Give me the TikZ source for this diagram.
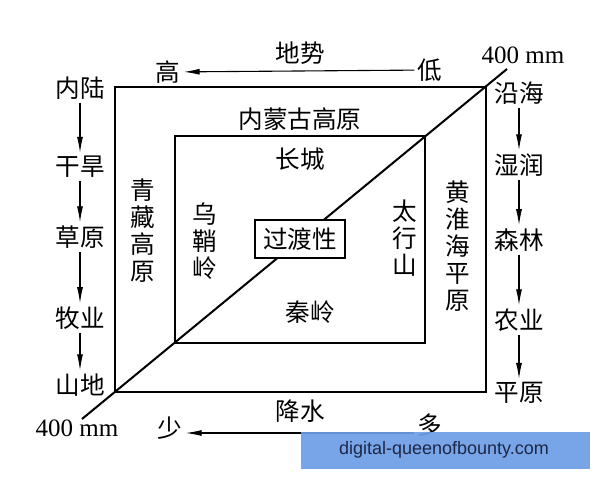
\documentclass[tikz,border=0pt]{standalone}
\usepackage{fontspec}
\setmainfont{Liberation Serif}
\newfontfamily\cjkfont{Noto Sans CJK SC}
\newfontfamily\wmfont{Liberation Sans}
\usetikzlibrary{arrows.meta}
\tikzset{>={Latex[length=8pt,width=3pt]}}
\definecolor{wmblue}{RGB}{108,158,230}
\definecolor{wmtext}{RGB}{30,38,70}

\begin{document}
\begin{tikzpicture}[x=0.5pt,y=-0.5pt,
        cjk/.style={font=\cjkfont\fontsize{12.3}{13.5}\selectfont,inner sep=1.5pt,align=center},
        mmlabel/.style={font=\fontsize{12.5}{14}\selectfont,inner sep=1pt},
        frame/.style={line width=1pt},
        flow/.style={->,line width=0.55pt}
    ]
    \useasboundingbox[fill=white] (0,0) rectangle (600,480);
    % isohyet and frames
    \coordinate (iso1) at (82,419);
    \coordinate (iso2) at (507,69);
    \draw[line width=1pt] (iso1) -- (iso2);
    \draw[frame] (115,87) rectangle (486,392);
    \draw[frame] (175,136) rectangle (425,343);
    \node[cjk,draw,fill=white,line width=1pt,minimum width=45pt,minimum height=19pt] (mid) at (300,239) {过渡性};
    % top and bottom gradients
    \node[cjk] (high) at (168,72) {高};
    \node[cjk] (low) at (430,70) {低};
    \node[cjk] (terrain) at (300,53) {地势};
    \draw[flow] (low) -- (high);
    \node[cjk] (less) at (170,428) {少};
    \node[cjk] (more) at (430,425) {多};
    \node[cjk] (rain) at (300,411) {降水};
    \draw[flow] (more.west |- 0,433) -- (less.east |- 0,433);
    \node[mmlabel] (mmtop) at (523,55) {400 mm};
    \node[mmlabel] (mmbot) at (77,428) {400 mm};
    % regions
    \node[cjk] (mongol) at (300,119) {内蒙古高原};
    \node[cjk] (wall) at (300,159) {长城};
    \node[cjk] (qinling) at (310,312) {秦岭};
    \node[cjk] (tibet) at (143,231) {青\\藏\\高\\原};
    \node[cjk] (wushao) at (205,241) {乌\\鞘\\岭};
    \node[cjk] (taihang) at (405,238) {太\\行\\山};
    \node[cjk] (huanghuai) at (458,246) {黄\\淮\\海\\平\\原};
    % side chains
    \foreach \t/\y [count=\i] in {内陆/88,干旱/167,草原/237,牧业/318,山地/385}
        \node[cjk] (west\i) at (80,\y) {\t};
    \foreach \t/\y [count=\i] in {沿海/93,湿润/165,森林/240,农业/320,平原/393}
        \node[cjk] (east\i) at (519,\y) {\t};
    \foreach \i [evaluate=\i as \j using int(\i+1)] in {1,...,4} {
        \draw[flow] (west\i) -- (west\j);
        \draw[flow] (east\i) -- (east\j);
    }
    % watermark
    \fill[wmblue,opacity=0.92] (301,432) rectangle (590,469);
    \node[font=\wmfont\fontsize{9}{11}\selectfont,text=wmtext] (wm) at (444,450) {digital-queenofbounty.com};
\end{tikzpicture}
\end{document}
